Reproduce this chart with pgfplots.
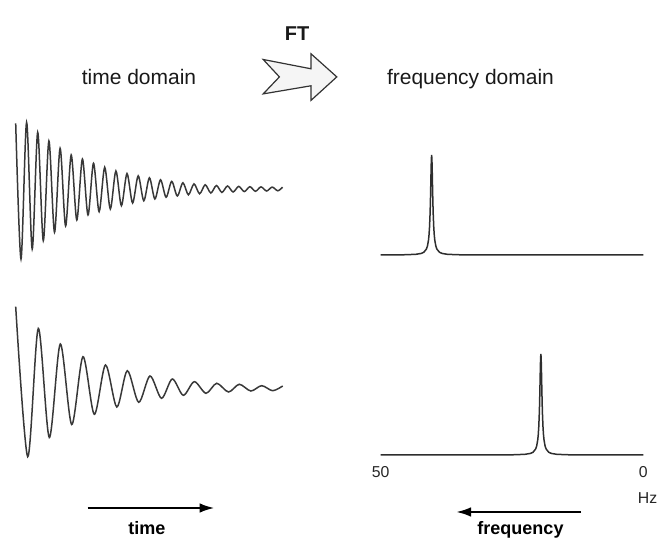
\documentclass[border=0pt]{standalone}
\usepackage{pgfplots}
\pgfplotsset{compat=1.18}
\usepackage{fontspec}
\setmainfont{Liberation Sans}
\usetikzlibrary{arrows.meta}

\begin{document}
\begin{tikzpicture}[x=0.5pt,y=0.5pt]
\path[use as bounding box] (0,0) rectangle (659,545);
% ---------- canvas axis in pixel units: time-domain signals and annotations
\begin{axis}[at={(0pt,0pt)}, anchor=south west, width=329.5pt, height=272.5pt,
  scale only axis, xmin=0, xmax=659, ymin=0, ymax=545, axis lines=none, clip=false]
% FID 1 (40 Hz)
\addplot[smooth, line width=0.75pt, black!78] coordinates {
(15.7,421.7)(21.0,286)(26.6,422.7)(32.2,296)(37.7,412.7)(43.3,304.3)(48.9,404)(54.5,312.7)
(60.1,396.7)(65.6,319)(71.2,390)(76.8,325)(82.4,386)(88.0,330)(93.5,381.7)(99.1,333.3)
(104.7,377.7)(110.3,336)(115.9,374)(121.4,339.3)(127.0,371.4)(132.6,342)(138.2,369.2)
(143.8,344.2)(149.4,367.2)(154.9,346)(160.5,365.2)(166.1,347.7)(171.7,363.6)(177.3,349)
(182.9,362.2)(188.4,350.2)(194.0,361.1)(199.6,351.2)(205.2,360.2)(210.8,352)(216.4,359.5)
(221.9,352.6)(227.5,359)(233.1,353)(238.7,358.6)(244.3,353.4)(249.9,358.3)(255.4,353.7)
(261.0,358.1)(266.6,354)(272.2,357.9)(277.8,354.2)(282.5,357.8)};
% FID 2 (20 Hz)
\addplot[smooth, line width=0.75pt, black!78] coordinates {
(15.7,238.3)(27.7,88.3)(38.3,216.5)(49.3,107.5)(60.3,201)(71.7,120.5)(83.0,188.3)
(94.3,130.7)(105.5,180)(116.8,138)(127.3,174.3)(138.7,142.7)(150.0,169)(161.5,146.7)
(172.3,166)(183.3,149.7)(194.3,163.3)(206.0,151.7)(216.7,161.7)(228.5,153)(239.3,160.7)
(250.8,154)(261.7,159.3)(272.7,154.3)(282.7,159)};
% headings
\node[anchor=base, font=\fontsize{10.5pt}{12pt}\selectfont, text=black!90] at (139,460) {time domain};
\node[anchor=base, font=\fontsize{10.5pt}{12pt}\selectfont, text=black!90] at (470.5,460) {frequency domain};
\node[anchor=base, font=\fontsize{10pt}{12pt}\selectfont\bfseries, text=black!90] at (297,504) {FT};
% FT block arrow
\draw[fill=black!4, draw=black!80, line width=0.6pt]
  (263.2,485.5) -- (311,476.2) -- (311,491.2) -- (336.8,468.1) -- (311,444.6)
  -- (311,459.2) -- (263.2,451.1) -- (279.4,468.1) -- cycle;
% axis arrows
\draw[line width=1.2pt, black, -{Latex[length=7.5pt,width=4.8pt]}] (87.7,37) -- (214.6,37);
\draw[line width=1.2pt, black, -{Latex[length=7.5pt,width=4.8pt]}] (581,33) -- (456,33);
\node[anchor=base, font=\fontsize{9pt}{11pt}\selectfont\bfseries] at (147,10) {time};
\node[anchor=base, font=\fontsize{9pt}{11pt}\selectfont\bfseries] at (520.5,10) {frequency};
\node[anchor=base, font=\fontsize{7.9pt}{9pt}\selectfont, text=black!85] at (647.5,41) {Hz};
\end{axis}
% ---------- spectrum 1 (peak near 40 Hz)
\begin{axis}[at={(190.35pt,145pt)}, anchor=south west, width=131.3pt, height=50pt,
  scale only axis, xmin=0, xmax=50, x dir=reverse, ymin=0, ymax=100,
  axis lines=none, clip=false]
\addplot[line width=0.75pt, black!82] coordinates {
(0,0.05)(30.3,0.06)(35.3,0.25)(37.3,0.69)(38.3,1.54)(38.8,2.7)(39.3,5.9)(39.5,8.9)
(39.7,14.8)(39.8,20)(39.9,28.1)(40.0,41.0)(40.05,50)(40.1,61.0)(40.15,73.5)(40.2,86.2)
(40.25,96.2)(40.3,100)(40.35,96.2)(40.4,86.2)(40.45,73.5)(40.5,61.0)(40.55,50)(40.6,41.0)
(40.7,28.1)(40.8,20)(40.9,14.8)(41.1,8.9)(41.3,5.9)(41.8,2.7)(42.3,1.54)(43.3,0.69)
(45.3,0.25)(50,0.07)};
\end{axis}
% ---------- spectrum 2 (peak near 20 Hz) with frequency scale
\begin{axis}[at={(190.35pt,45pt)}, anchor=south west, width=131.3pt, height=50pt,
  scale only axis, xmin=0, xmax=50, x dir=reverse, ymin=0, ymax=100,
  axis x line*=bottom, axis y line=none, x axis line style={draw=none},
  xtick={50,0}, xticklabels={50,0}, major tick length=0pt, ytick=\empty,
  /pgf/number format/assume math mode=true,
  xticklabel style={font=\fontsize{7.9pt}{9pt}\selectfont, text=black!85, anchor=base, yshift=-11.2pt},
  clip=false]
\addplot[line width=0.75pt, black!82] coordinates {
(0,0.02)(9.5,0.06)(14.5,0.25)(16.5,0.7)(17.5,1.56)(18.0,2.7)(18.5,6.0)(18.7,9.0)
(18.9,15.0)(19.0,20.2)(19.1,28.4)(19.2,41.4)(19.25,50.5)(19.3,61.6)(19.35,74.2)(19.4,87.1)
(19.45,97.2)(19.5,101)(19.55,97.2)(19.6,87.1)(19.65,74.2)(19.7,61.6)(19.75,50.5)(19.8,41.4)
(19.9,28.4)(20.0,20.2)(20.1,15.0)(20.3,9.0)(20.5,6.0)(21.0,2.7)(21.5,1.56)(22.5,0.7)
(24.5,0.25)(29.5,0.06)(50,0.02)};
\end{axis}
\end{tikzpicture}
\end{document}
